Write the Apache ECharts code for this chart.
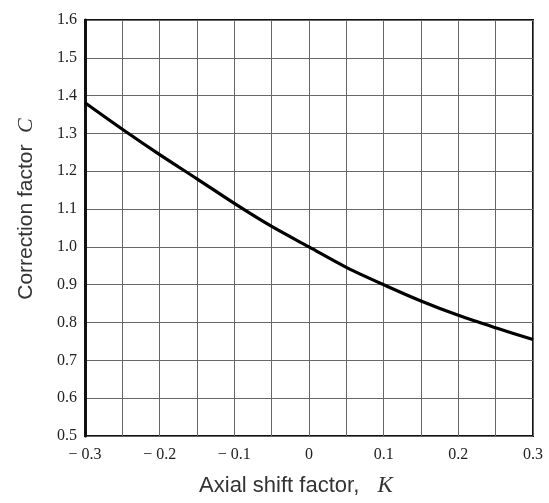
<!DOCTYPE html>
<html>
<head>
<meta charset="utf-8">
<script src="https://cdn.jsdelivr.net/npm/echarts@6/dist/echarts.min.js"></script>
<style>
html,body{margin:0;padding:0;background:#fff;}
#chart{width:549px;height:503px;}
</style>
</head>
<body>
<div id="chart"></div>
<script>
// 轴向偏移系数 K
var kValues = [-0.3, -0.25, -0.2, -0.15, -0.1, -0.05, 0, 0.05, 0.1, 0.15, 0.2, 0.25, 0.3];
// 修正系数 C
var cValues = [1.381, 1.311, 1.244, 1.18, 1.115, 1.054, 1.0, 0.946, 0.9, 0.857, 0.819, 0.786, 0.755];

// 刻度标签
var xTickValues = [-0.3, -0.2, -0.1, 0, 0.1, 0.2, 0.3];
var xTickLabels = ['\u2212 0.3', '\u2212 0.2', '\u2212 0.1', '0', '0.1', '0.2', '0.3'];
var yTickLabels = ['0.5', '0.6', '0.7', '0.8', '0.9', '1.0', '1.1', '1.2', '1.3', '1.4', '1.5', '1.6'];

var chart = echarts.init(document.getElementById('chart'));

var serif = '"Liberation Serif", "DejaVu Serif", serif';
var sans = '"Liberation Sans", Arial, sans-serif';

var option = {
	animation: false,
	grid: {
		left: 85,
		right: 16,
		top: 20,
		bottom: 67,
		show: true,
		borderColor: '#111',
		borderWidth: 2
	},
	xAxis: {
		type: 'value',
		min: -0.3,
		max: 0.3,
		interval: 0.05,
		name: 'Axial shift factor,   {k|K}',
		nameLocation: 'middle',
		nameGap: 38,
		nameTextStyle: {
			fontFamily: sans,
			fontSize: 22,
			color: '#333',
			padding: [0, 26, 0, 0],
			rich: {
				k: {fontFamily: serif, fontStyle: 'italic', fontSize: 23, color: '#333'}
			}
		},
		axisLine: {show: false},
		axisTick: {show: false},
		splitLine: {lineStyle: {color: '#666', width: 1}},
		axisLabel: {
			margin: 11,
			fontFamily: serif,
			fontSize: 16,
			color: '#222',
			formatter: function(v) {
				var r = Math.round(v * 100);
				for (var i = 0; i < xTickValues.length; i++) {
					if (Math.round(xTickValues[i] * 100) === r) {
						return xTickLabels[i];
					}
				}
				return '';
			}
		}
	},
	yAxis: {
		type: 'value',
		min: 0.5,
		max: 1.6,
		interval: 0.1,
		name: 'Correction factor  {c|C}',
		nameLocation: 'middle',
		nameGap: 48,
		nameTextStyle: {
			fontFamily: sans,
			fontSize: 21,
			color: '#333',
			padding: [0, 0, 0, 38],
			rich: {
				c: {fontFamily: serif, fontStyle: 'italic', fontSize: 22, color: '#333'}
			}
		},
		axisLine: {show: true, onZero: false, lineStyle: {color: '#111', width: 3}},
		axisTick: {show: false},
		splitLine: {lineStyle: {color: '#666', width: 1}},
		axisLabel: {
			margin: 8,
			fontFamily: serif,
			fontSize: 16,
			color: '#222',
			formatter: function(v) {
				var idx = Math.round((v - 0.5) * 10);
				return yTickLabels[idx] || '';
			}
		}
	},
	series: [{
		type: 'line',
		data: kValues.map(function(k, i) { return [k, cValues[i]]; }),
		smooth: 0.3,
		showSymbol: false,
		lineStyle: {color: '#000', width: 3.2},
		z: 5
	}]
};

chart.setOption(option);
</script>
</body>
</html>
